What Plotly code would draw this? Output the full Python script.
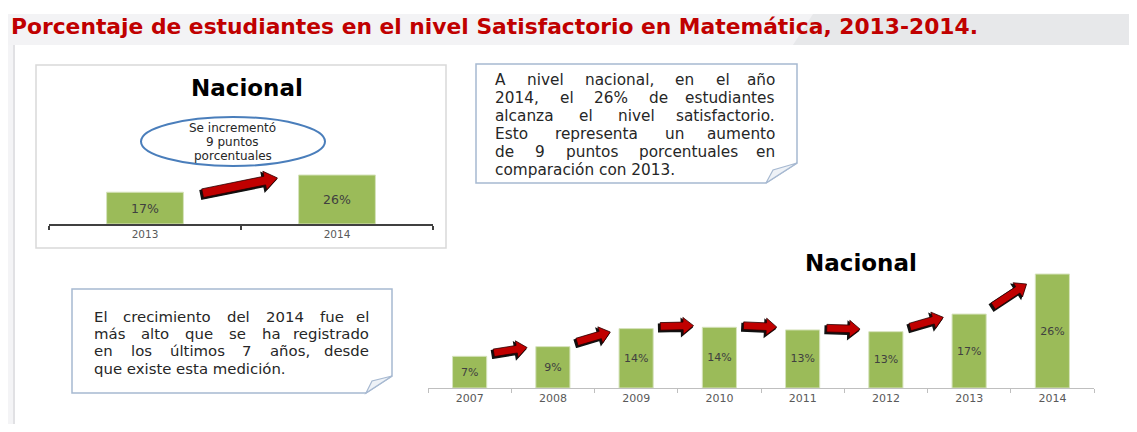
import math
import plotly.graph_objects as go

# ---------------- data ----------------
title_text = "Porcentaje de estudiantes en el nivel Satisfactorio en Matemática, 2013-2014."
chart_title = "Nacional"

years_all = ["2007", "2008", "2009", "2010", "2011", "2012", "2013", "2014"]
values_all = [7.2, 9.4, 13.5, 13.8, 13.2, 12.8, 16.8, 25.9]
labels_all = ["7%", "9%", "14%", "14%", "13%", "13%", "17%", "26%"]

years_recent = ["2013", "2014"]
values_recent = [16.8, 25.9]
labels_recent = ["17%", "26%"]

bubble_lines = ["Se incrementó", "9 puntos", "porcentuales"]

box1_lines = [
    "A nivel nacional, en el año",
    "2014, el 26% de estudiantes",
    "alcanza el nivel satisfactorio.",
    "Esto representa un aumento",
    "de 9 puntos porcentuales en",
    "comparación con 2013.",
]
box2_lines = [
    "El crecimiento del 2014 fue el",
    "más alto que se ha registrado",
    "en los últimos 7 años, desde",
    "que existe esta medición.",
]

# ---------------- layout helpers (page pixels -> paper) ----------------
W, H = 1137, 432
OX, OY = 8, 8                 # page body margin of the html page
FW, FH = W - OX, H - 2 * OY   # figure size (no vertical overflow)


def px(x):
    return (x - OX) / FW


def py(y):
    return 1 - (y - OY) / FH


BAR_GREEN = "#9bbb59"
RED = "#c00000"
TXT = "#262626"
BOX_LINE = "#a7b9d1"
FONT = "DejaVu Sans"

# small chart geometry
S_X0, S_X1, S_AX, S_TOP = 49, 433, 224, 100
S_SCALE = 1.892  # px per percentage point
# big chart geometry
B_X0, B_X1, B_AX, B_TOP = 428, 1094, 388, 260
B_SCALE = 4.40

fig = go.Figure()

fig.add_trace(go.Bar(
    x=years_recent, y=values_recent, text=labels_recent,
    texttemplate="%{text}", textposition="inside", insidetextanchor="middle",
    textfont=dict(family=FONT, size=12.5, color="#404040"),
    marker=dict(color=BAR_GREEN, line=dict(color="#d6e3bc", width=1)),
    width=0.4, xaxis="x", yaxis="y", hoverinfo="skip", cliponaxis=False,
))
fig.add_trace(go.Bar(
    x=years_all, y=values_all, text=labels_all,
    texttemplate="%{text}", textposition="inside", insidetextanchor="middle",
    textfont=dict(family=FONT, size=11, color="#404040"),
    marker=dict(color=BAR_GREEN, line=dict(color="#d6e3bc", width=1)),
    width=0.41, xaxis="x2", yaxis="y2", hoverinfo="skip", cliponaxis=False,
))

axis_common = dict(type="category", showgrid=False, zeroline=False, showline=True,
                   ticks="outside", tickson="boundaries", ticklen=4, fixedrange=True)

fig.update_layout(
    width=FW, height=FH,
    margin=dict(l=0, r=0, t=0, b=0),
    paper_bgcolor="white", plot_bgcolor="rgba(0,0,0,0)",
    showlegend=False, bargap=0.6,
    xaxis=dict(domain=[px(S_X0), px(S_X1)], linecolor="#404040", linewidth=1.5,
               tickcolor="#404040", tickwidth=1.5,
               tickfont=dict(family=FONT, size=10.5, color="#595959"), **axis_common),
    yaxis=dict(domain=[py(S_AX), py(S_TOP)], range=[0, (S_AX - S_TOP) / S_SCALE],
               visible=False, fixedrange=True),
    xaxis2=dict(domain=[px(B_X0), px(B_X1)], linecolor="#bfbfbf", linewidth=1,
                tickcolor="#bfbfbf", tickwidth=1, anchor="y2",
                tickfont=dict(family=FONT, size=11, color="#595959"), **axis_common),
    yaxis2=dict(domain=[py(B_AX), py(B_TOP)], range=[0, (B_AX - B_TOP) / B_SCALE],
                visible=False, fixedrange=True, anchor="x2"),
)

shapes = []
annotations = []

# header band
shapes.append(dict(type="rect", xref="paper", yref="paper", x0=px(7), x1=px(W + 2), y0=py(45), y1=py(14),
                   fillcolor="#f3f3f5", line=dict(width=0), layer="below"))
shapes.append(dict(type="path", xref="paper", yref="paper",
                   path=f"M {px(813)},{py(14)} L {px(W + 2)},{py(14)} L {px(W + 2)},{py(45)} L {px(793)},{py(45)} Z",
                   fillcolor="#e7e8ea", line=dict(width=0), layer="below"))
# content panel edge
shapes.append(dict(type="rect", xref="paper", yref="paper", x0=px(6), x1=px(13), y0=py(H + 2), y1=py(45),
                   fillcolor="#f4f4f6", line=dict(width=0), layer="below"))
shapes.append(dict(type="line", xref="paper", yref="paper", x0=px(14), x1=px(14), y0=py(45), y1=py(H + 2),
                   line=dict(color="#e1e1e4", width=2), layer="below"))

# top-left chart frame
shapes.append(dict(type="rect", xref="paper", yref="paper", x0=px(36), x1=px(446), y0=py(248), y1=py(65),
                   fillcolor="white", line=dict(color="#d9d9d9", width=1.5), layer="below"))


def note_box(x0, y0, x1, y1, fold_x, fold_y, inner):
    shapes.append(dict(type="path", xref="paper", yref="paper",
                       path=(f"M {px(x0)},{py(y0)} L {px(x1)},{py(y0)} L {px(x1)},{py(fold_y)} "
                             f"L {px(fold_x)},{py(y1)} L {px(x0)},{py(y1)} Z"),
                       fillcolor="white", line=dict(color=BOX_LINE, width=1.5), layer="below"))
    shapes.append(dict(type="path", xref="paper", yref="paper",
                       path=(f"M {px(fold_x)},{py(y1)} L {px(inner[0])},{py(inner[1])} "
                             f"L {px(x1)},{py(fold_y)} Z"),
                       fillcolor="#eef2f7", line=dict(color=BOX_LINE, width=1.2), layer="below"))


note_box(476, 64, 797, 183, 766, 163, (773, 170))
note_box(72, 289, 392, 393, 366, 376, (372, 381))

# DejaVu Sans approximate advance widths (1/1000 em), used to justify lines
CW = {' ': 318, 'a': 613, 'b': 635, 'c': 550, 'd': 635, 'e': 615, 'f': 352, 'g': 635, 'h': 634,
      'i': 278, 'j': 278, 'k': 579, 'l': 278, 'm': 974, 'n': 634, 'o': 612, 'p': 635, 'q': 635,
      'r': 411, 's': 521, 't': 392, 'u': 634, 'v': 592, 'w': 818, 'x': 592, 'y': 592, 'z': 525,
      ',': 318, '.': 318, '%': 950, 'A': 684, 'E': 632, '0': 636, '1': 636, '2': 636, '3': 636,
      '4': 636, '5': 636, '6': 636, '7': 636, '8': 636, '9': 636,
      'á': 613, 'é': 615, 'í': 278, 'ó': 612, 'ú': 634, 'ñ': 634}


def text_w(s, size):
    return sum(CW.get(c, 600) for c in s) * size / 1000


def word_ann(x, y, text, anchor, size):
    return dict(x=px(x), y=py(y), xref="paper", yref="paper", text=text,
                showarrow=False, xanchor=anchor, yanchor="middle",
                font=dict(family=FONT, size=size, color=TXT))


def add_block(lines, left, right, y_start, step, size):
    for k, line in enumerate(lines):
        y = y_start + k * step
        words = line.split()
        if k == len(lines) - 1 or len(words) == 1:
            annotations.append(word_ann(left, y, line, "left", size))
            continue
        widths = [text_w(w, size) for w in words]
        gap = (right - left - sum(widths)) / (len(words) - 1)
        x = left
        for j, (w, wd) in enumerate(zip(words, widths)):
            if j == len(words) - 1:
                annotations.append(word_ann(right, y, w, "right", size))
            else:
                annotations.append(word_ann(x, y, w, "left", size))
            x += wd + gap


add_block(box1_lines, 493, 777, 80, 17.9, 15.3)
add_block(box2_lines, 92, 371, 316.5, 17.4, 14.9)

# title
annotations.append(dict(x=px(9), y=py(26.5), xref="paper", yref="paper", text=f"<b>{title_text}</b>",
                        showarrow=False, xanchor="left", yanchor="middle",
                        font=dict(family=FONT, size=21.8, color=RED)))

# chart titles
annotations.append(dict(x=px(247), y=py(88), xref="paper", yref="paper", text=f"<b>{chart_title}</b>",
                        showarrow=False, xanchor="center", yanchor="middle",
                        font=dict(family=FONT, size=23, color="black")))
annotations.append(dict(x=px(861), y=py(263), xref="paper", yref="paper", text=f"<b>{chart_title}</b>",
                        showarrow=False, xanchor="center", yanchor="middle",
                        font=dict(family=FONT, size=23, color="black")))

# bubble
shapes.append(dict(type="circle", xref="paper", yref="paper", x0=px(141), x1=px(325), y0=py(166), y1=py(117),
                   fillcolor="rgba(255,255,255,0)", line=dict(color="#4a7ebb", width=2)))
for k, line in enumerate(bubble_lines):
    annotations.append(dict(x=px(233), y=py(128 + 14 * k), xref="paper", yref="paper", text=line,
                            showarrow=False, xanchor="center", yanchor="middle",
                            font=dict(family=FONT, size=12, color=TXT)))


# arrows
def arrow_pts(x0, y0, x1, y1, shaft, head, headlen, ox=0.0, oy=0.0):
    dx, dy = x1 - x0, y1 - y0
    L = math.hypot(dx, dy)
    ux, uy = dx / L, dy / L
    nx, ny = -uy, ux
    bx, by = x1 - ux * headlen, y1 - uy * headlen
    pts = [(x0 + nx * shaft, y0 + ny * shaft), (bx + nx * shaft, by + ny * shaft),
           (bx + nx * head, by + ny * head), (x1, y1), (bx - nx * head, by - ny * head),
           (bx - nx * shaft, by - ny * shaft), (x0 - nx * shaft, y0 - ny * shaft)]
    return "M " + " L ".join(f"{px(x + ox):.5f},{py(y + oy):.5f}" for x, y in pts) + " Z"


def add_arrow(x0, y0, x1, y1, shaft, head, headlen):
    shapes.append(dict(type="path", xref="paper", yref="paper",
                       path=arrow_pts(x0, y0, x1, y1, shaft, head, headlen, -1.6, 1.6),
                       fillcolor="#111111", line=dict(color="#111111", width=1.5)))
    shapes.append(dict(type="path", xref="paper", yref="paper",
                       path=arrow_pts(x0, y0, x1, y1, shaft, head, headlen),
                       fillcolor=RED, line=dict(color="#2a0000", width=0.8)))


# big chart arrows, placed between consecutive bars from the data
b_cw = (B_X1 - B_X0) / len(years_all)
for i in range(len(values_all) - 1):
    top_a = B_AX - values_all[i] * B_SCALE
    top_b = B_AX - values_all[i + 1] * B_SCALE
    diff = top_a - top_b
    xa = B_X0 + (i + 0.5) * b_cw + 0.29 * b_cw
    xb = B_X0 + (i + 1.5) * b_cw - 0.31 * b_cw
    ya = top_a - 0.15 * diff - 2
    yb = top_b + 0.3 * diff - 2
    add_arrow(xa, ya, xb, yb, 3.8, 8.5, 10.5)

# small chart arrow
s_cw = (S_X1 - S_X0) / len(years_recent)
top_a = S_AX - values_recent[0] * S_SCALE
top_b = S_AX - values_recent[1] * S_SCALE
add_arrow(S_X0 + 0.5 * s_cw + 0.30 * s_cw, top_a + 1, S_X0 + 1.5 * s_cw - 0.31 * s_cw, top_b + 3, 4.4, 9.5, 13)

fig.update_layout(shapes=shapes, annotations=annotations)
fig.write_html("out.html")
